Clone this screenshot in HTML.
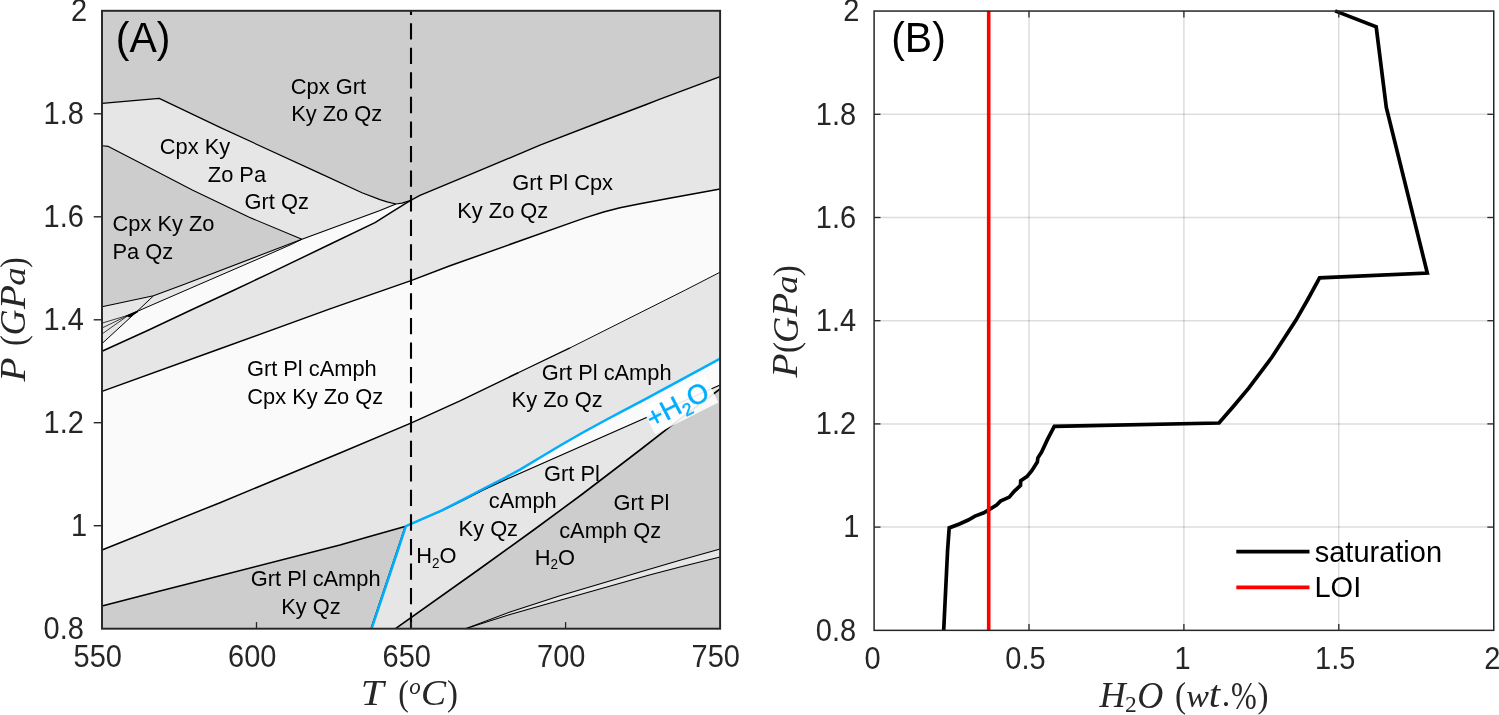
<!DOCTYPE html>
<html><head><meta charset="utf-8"><title>Figure</title>
<style>html,body{margin:0;padding:0;background:#fff;overflow:hidden}svg{display:block;will-change:transform}</style></head>
<body>
<svg width="1499" height="715" viewBox="0 0 1499 715">
<rect width="1499" height="715" fill="#fff"/>
<rect x="102.0" y="10.8" width="618.1" height="617.9000000000001" fill="#cdcdcd"/>
<polygon points="102.0,103.4 159.2,98.4 220.0,127.4 320.0,173.4 362.0,192.7 380.0,199.6 387.1,201.9 395.9,204.0 380.0,210.4 301.9,239.3 248.7,217.0 192.3,190.0 150.0,168.0 108.4,146.4 102.0,145.7" fill="#e6e6e6"/>
<polygon points="102.0,306.8 153.5,295.8 182.5,285.0 260.0,255.3 301.9,239.3 380.0,210.4 395.9,204.0 402.0,203.1 410.2,200.7 420.0,195.4 480.0,170.4 540.0,145.2 600.0,122.0 645.0,105.0 660.0,99.2 720.1,76.6 720.1,188.9 690.0,194.4 670.7,197.9 640.0,203.7 620.0,207.8 603.6,212.0 585.0,217.9 570.0,223.1 450.0,265.8 411.0,280.6 330.0,308.9 220.0,348.8 102.0,391.4" fill="#e6e6e6"/>
<polygon points="136.8,311.6 137.8,311.2 150.0,305.8 197.9,285.0 270.0,253.8 290.0,245.0 301.9,239.3 380.0,210.4 395.9,204.0 402.0,203.1 410.2,200.7 392.0,211.8 375.0,222.6 330.0,244.3 270.0,273.1 234.3,290.0 210.0,301.3 191.1,310.0 148.7,330.0 102.0,351.3 102.0,343.6" fill="#fafafa"/>
<polygon points="102.0,391.4 220.0,348.8 330.0,308.9 411.0,280.6 450.0,265.8 570.0,223.1 585.0,217.9 603.6,212.0 620.0,207.8 640.0,203.7 670.7,197.9 690.0,194.4 720.1,188.9 720.1,272.2 685.4,290.0 570.0,347.9 518.7,372.5 460.0,400.9 410.9,423.1 340.0,453.0 220.0,502.7 102.0,550.0" fill="#fafafa"/>
<polygon points="102.0,550.0 220.0,502.7 340.0,453.0 410.9,423.1 460.0,400.9 518.7,372.5 570.0,347.9 685.4,290.0 720.1,272.2 720.1,358.7 699.4,369.8 645.8,398.8 624.9,409.8 603.9,421.0 582.9,432.5 561.9,444.5 541.0,457.0 520.0,469.6 504.9,477.8 483.9,488.5 462.9,499.6 441.9,510.3 405.9,526.2 367.8,537.0 340.0,545.0 220.0,575.8 160.0,591.0 102.0,606.0" fill="#e6e6e6"/>
<polygon points="371.6,628.7 396.3,555.0 405.9,526.2 441.9,510.8 462.9,500.4 483.9,489.6 504.9,479.9 720.1,385.0 720.1,388.8 714.1,393.5 670.7,426.2 640.0,450.0 581.8,494.5 533.6,530.0 478.1,570.0 395.5,628.7" fill="#e6e6e6"/>
<polygon points="483.9,488.5 504.9,477.8 520.0,469.6 541.0,457.0 561.9,444.5 582.9,432.5 603.9,421.0 624.9,409.8 645.8,398.8 699.4,369.8 720.1,358.7 720.1,385.0 504.9,479.9 483.9,489.6" fill="#fafafa"/>
<polygon points="465.5,628.7 510.0,612.0 560.0,595.7 640.0,571.9 680.0,560.3 720.1,549.0 720.1,557.0 680.0,566.9 649.4,575.0 560.0,600.3 510.0,614.5" fill="#e6e6e6"/>
<polygon points="125.5,315.8 137.6,310.5 138.2,312.0 129.5,317.6" fill="#000"/>
<polyline points="102.0,103.4 159.2,98.4 220.0,127.4 320.0,173.4 362.0,192.7 380.0,199.6 387.1,201.9 395.9,204.0 402.0,203.1 410.2,200.7" fill="none" stroke="#000" stroke-width="1.2" stroke-linejoin="round" />
<polyline points="410.2,200.7 420.0,195.4 480.0,170.4 540.0,145.2 600.0,122.0 645.0,105.0 660.0,99.2 720.1,76.6" fill="none" stroke="#000" stroke-width="1.4" stroke-linejoin="round" />
<polyline points="102.0,145.7 108.4,146.4 150.0,168.0 192.3,190.0 248.7,217.0 301.9,239.3" fill="none" stroke="#000" stroke-width="1.1" stroke-linejoin="round" />
<polyline points="102.0,306.8 153.5,295.8 182.5,285.0 260.0,255.3 301.9,239.3 380.0,210.4 395.9,204.0" fill="none" stroke="#000" stroke-width="1.05" stroke-linejoin="round" />
<polyline points="153.5,295.8 136.8,311.6 102.0,343.6" fill="none" stroke="#000" stroke-width="1.0" stroke-linejoin="round" />
<polyline points="128.5,315.2 137.8,311.2 150.0,305.8 197.9,285.0 270.0,253.8 290.0,245.0 301.9,239.3" fill="none" stroke="#000" stroke-width="1.0" stroke-linejoin="round" />
<polyline points="102.0,351.3 148.7,330.0 191.1,310.0 210.0,301.3 234.3,290.0 270.0,273.1 330.0,244.3 375.0,222.6 392.0,211.8 410.2,200.7" fill="none" stroke="#000" stroke-width="1.5" stroke-linejoin="round" />
<polyline points="102.0,391.4 220.0,348.8 330.0,308.9 411.0,280.6 450.0,265.8 570.0,223.1 585.0,217.9 603.6,212.0 620.0,207.8 640.0,203.7 670.7,197.9 690.0,194.4 720.1,188.9" fill="none" stroke="#000" stroke-width="1.5" stroke-linejoin="round" />
<polyline points="102.0,606.0 160.0,591.0 220.0,575.8 340.0,545.0 367.8,537.0 405.9,526.2" fill="none" stroke="#000" stroke-width="1.5" stroke-linejoin="round" />
<polyline points="405.9,526.2 441.9,510.8 462.9,500.4 483.9,489.6 504.9,479.9 720.1,385.0" fill="none" stroke="#000" stroke-width="1.2" stroke-linejoin="round" />
<polyline points="395.5,628.7 478.1,570.0 533.6,530.0 581.8,494.5 640.0,450.0 670.7,426.2 714.1,393.5 720.1,388.8" fill="none" stroke="#000" stroke-width="1.6" stroke-linejoin="round" />
<polyline points="465.5,628.7 510.0,612.0 560.0,595.7 640.0,571.9 680.0,560.3 720.1,549.0" fill="none" stroke="#000" stroke-width="1.05" stroke-linejoin="round" />
<polyline points="465.5,628.7 510.0,614.5 560.0,600.3 649.4,575.0 680.0,566.9 720.1,557.0" fill="none" stroke="#000" stroke-width="1.05" stroke-linejoin="round" />
<polyline points="102.0,550.0 220.0,502.7 340.0,453.0 410.9,423.1 460.0,400.9 518.7,372.5" fill="none" stroke="#000" stroke-width="1.5" stroke-linejoin="round" />
<polyline points="518.7,372.5 570.0,347.9" fill="none" stroke="#000" stroke-width="1.25" stroke-linejoin="round" />
<polyline points="570.0,347.9 685.4,290.0 720.1,272.2" fill="none" stroke="#000" stroke-width="0.95" stroke-linejoin="round" />
<polyline points="128.5,315.2 102.0,323.1" fill="none" stroke="#000" stroke-width="0.75" stroke-linejoin="round" />
<polyline points="128.5,315.2 102.0,328.0" fill="none" stroke="#000" stroke-width="0.75" stroke-linejoin="round" />
<polyline points="128.5,315.2 102.0,334.0" fill="none" stroke="#000" stroke-width="0.75" stroke-linejoin="round" />
<polyline points="370.9,628.7 395.6,555.0 405.2,526.2" fill="none" stroke="#000" stroke-width="1.2" stroke-linejoin="round" />
<polyline points="371.6,628.7 396.3,555.0 405.9,526.2 441.9,510.3 462.9,499.6 483.9,488.5 504.9,477.8 520.0,469.6 541.0,457.0 561.9,444.5 582.9,432.5 603.9,421.0 624.9,409.8 645.8,398.8 699.4,369.8 720.1,358.7" fill="none" stroke="#00aefd" stroke-width="2.5" stroke-linejoin="round" />
<line x1="411.0" y1="10.8" x2="411.0" y2="628.7" stroke="#000" stroke-width="2.1" stroke-dasharray="16.3 8.26" stroke-dashoffset="12.2"/>
<g transform="translate(655.2,434.3) rotate(-26.7)"><rect x="0" y="-30" width="70.8" height="30" fill="#ffffff" fill-opacity="0.9"/></g>
<g transform="translate(652.3,428.4) rotate(-27.6)"><text x="0" y="0" font-size="27.2" fill="#00aefd" stroke="#00aefd" stroke-width="0.45" font-family="Liberation Sans, sans-serif">+H<tspan font-size="17.5" dy="5.5">2</tspan><tspan dy="-5.5">O</tspan></text></g>
<text transform="translate(290.80,93.60) scale(1,1.02)" font-size="21.85" text-anchor="start" fill="#000" font-family="Liberation Sans, sans-serif" >Cpx Grt</text>
<text transform="translate(291.20,121.40) scale(1,1.02)" font-size="21.85" text-anchor="start" fill="#000" font-family="Liberation Sans, sans-serif" >Ky Zo Qz</text>
<text transform="translate(159.80,153.90) scale(1,1.02)" font-size="21.85" text-anchor="start" fill="#000" font-family="Liberation Sans, sans-serif" >Cpx Ky</text>
<text transform="translate(207.80,182.10) scale(1,1.02)" font-size="21.85" text-anchor="start" fill="#000" font-family="Liberation Sans, sans-serif" >Zo Pa</text>
<text transform="translate(244.60,209.20) scale(1,1.02)" font-size="21.85" text-anchor="start" fill="#000" font-family="Liberation Sans, sans-serif" >Grt Qz</text>
<text transform="translate(112.50,231.20) scale(1,1.02)" font-size="21.85" text-anchor="start" fill="#000" font-family="Liberation Sans, sans-serif" >Cpx Ky Zo</text>
<text transform="translate(112.50,258.60) scale(1,1.02)" font-size="21.85" text-anchor="start" fill="#000" font-family="Liberation Sans, sans-serif" >Pa Qz</text>
<text transform="translate(512.30,190.30) scale(1,1.02)" font-size="21.85" text-anchor="start" fill="#000" font-family="Liberation Sans, sans-serif" >Grt Pl Cpx</text>
<text transform="translate(457.30,217.80) scale(1,1.02)" font-size="21.85" text-anchor="start" fill="#000" font-family="Liberation Sans, sans-serif" >Ky Zo Qz</text>
<text transform="translate(246.90,376.20) scale(1,1.02)" font-size="21.85" text-anchor="start" fill="#000" font-family="Liberation Sans, sans-serif" >Grt Pl cAmph</text>
<text transform="translate(247.30,404.00) scale(1,1.02)" font-size="21.85" text-anchor="start" fill="#000" font-family="Liberation Sans, sans-serif" >Cpx Ky Zo Qz</text>
<text transform="translate(541.80,379.50) scale(1,1.02)" font-size="21.85" text-anchor="start" fill="#000" font-family="Liberation Sans, sans-serif" >Grt Pl cAmph</text>
<text transform="translate(511.60,406.80) scale(1,1.02)" font-size="21.85" text-anchor="start" fill="#000" font-family="Liberation Sans, sans-serif" >Ky Zo Qz</text>
<text transform="translate(544.00,480.60) scale(1,1.02)" font-size="21.85" text-anchor="start" fill="#000" font-family="Liberation Sans, sans-serif" >Grt Pl</text>
<text transform="translate(488.80,507.60) scale(1,1.02)" font-size="21.85" text-anchor="start" fill="#000" font-family="Liberation Sans, sans-serif" >cAmph</text>
<text transform="translate(458.60,535.50) scale(1,1.02)" font-size="21.85" text-anchor="start" fill="#000" font-family="Liberation Sans, sans-serif" >Ky Qz</text>
<text transform="translate(416.30,563.30) scale(1,1.02)" font-size="21.85" text-anchor="start" fill="#000" font-family="Liberation Sans, sans-serif" >H<tspan font-size="13.5" dy="4.5">2</tspan><tspan dy="-4.5">O</tspan></text>
<text transform="translate(613.60,510.20) scale(1,1.02)" font-size="21.85" text-anchor="start" fill="#000" font-family="Liberation Sans, sans-serif" >Grt Pl</text>
<text transform="translate(559.20,537.90) scale(1,1.02)" font-size="21.85" text-anchor="start" fill="#000" font-family="Liberation Sans, sans-serif" >cAmph Qz</text>
<text transform="translate(534.70,564.90) scale(1,1.02)" font-size="21.85" text-anchor="start" fill="#000" font-family="Liberation Sans, sans-serif" >H<tspan font-size="13.5" dy="4.5">2</tspan><tspan dy="-4.5">O</tspan></text>
<text transform="translate(250.80,586.00) scale(1,1.02)" font-size="21.85" text-anchor="start" fill="#000" font-family="Liberation Sans, sans-serif" >Grt Pl cAmph</text>
<text transform="translate(281.30,613.50) scale(1,1.02)" font-size="21.85" text-anchor="start" fill="#000" font-family="Liberation Sans, sans-serif" >Ky Qz</text>
<text transform="translate(115.80,51.70) scale(1,1.04)" font-size="41" text-anchor="start" fill="#000" font-family="Liberation Sans, sans-serif" >(A)</text>
<rect x="102.0" y="10.8" width="618.1" height="617.9000000000001" fill="none" stroke="#262626" stroke-width="1.95"/>
<text transform="translate(71.01,21.10) scale(1,1.085)" font-size="29.0" text-anchor="start" fill="#262626" font-family="Liberation Sans, sans-serif" >2</text>
<line x1="93.7" y1="113.8" x2="102.0" y2="113.8" stroke="#262626" stroke-width="1.4"/>
<text transform="translate(43.51,124.08) scale(1,1.085)" font-size="29.0" text-anchor="start" fill="#262626" font-family="Liberation Sans, sans-serif" >1.8</text>
<line x1="93.7" y1="216.8" x2="102.0" y2="216.8" stroke="#262626" stroke-width="1.4"/>
<text transform="translate(43.51,227.07) scale(1,1.085)" font-size="29.0" text-anchor="start" fill="#262626" font-family="Liberation Sans, sans-serif" >1.6</text>
<line x1="93.7" y1="319.8" x2="102.0" y2="319.8" stroke="#262626" stroke-width="1.4"/>
<text transform="translate(43.51,330.05) scale(1,1.085)" font-size="29.0" text-anchor="start" fill="#262626" font-family="Liberation Sans, sans-serif" >1.4</text>
<line x1="93.7" y1="422.7" x2="102.0" y2="422.7" stroke="#262626" stroke-width="1.4"/>
<text transform="translate(43.51,433.03) scale(1,1.085)" font-size="29.0" text-anchor="start" fill="#262626" font-family="Liberation Sans, sans-serif" >1.2</text>
<line x1="93.7" y1="525.7" x2="102.0" y2="525.7" stroke="#262626" stroke-width="1.4"/>
<text transform="translate(71.01,536.02) scale(1,1.085)" font-size="29.0" text-anchor="start" fill="#262626" font-family="Liberation Sans, sans-serif" >1</text>
<text transform="translate(43.51,639.00) scale(1,1.085)" font-size="29.0" text-anchor="start" fill="#262626" font-family="Liberation Sans, sans-serif" >0.8</text>
<text transform="translate(73.51,666.70) scale(1,1.085)" font-size="29.0" text-anchor="start" fill="#262626" font-family="Liberation Sans, sans-serif" >550</text>
<line x1="256.5" y1="628.7" x2="256.5" y2="622.1" stroke="#262626" stroke-width="1.3"/>
<text transform="translate(228.03,666.70) scale(1,1.085)" font-size="29.0" text-anchor="start" fill="#262626" font-family="Liberation Sans, sans-serif" >600</text>
<line x1="411.1" y1="628.7" x2="411.1" y2="622.1" stroke="#262626" stroke-width="1.3"/>
<text transform="translate(382.56,666.70) scale(1,1.085)" font-size="29.0" text-anchor="start" fill="#262626" font-family="Liberation Sans, sans-serif" >650</text>
<line x1="565.6" y1="628.7" x2="565.6" y2="622.1" stroke="#262626" stroke-width="1.3"/>
<text transform="translate(537.08,666.70) scale(1,1.085)" font-size="29.0" text-anchor="start" fill="#262626" font-family="Liberation Sans, sans-serif" >700</text>
<text transform="translate(691.61,666.70) scale(1,1.085)" font-size="29.0" text-anchor="start" fill="#262626" font-family="Liberation Sans, sans-serif" >750</text>
<g transform="translate(25.1,381.7) rotate(-90)"><text transform="translate(0.24,-0.00) scale(1.190,1.065)" font-size="33" fill="#262626" font-family="Liberation Serif, serif" font-style="italic">P</text><text transform="translate(35.82,0.30) scale(0.988,1.100)" font-size="33" fill="#262626" font-family="Liberation Serif, serif" font-style="normal">(</text><text transform="translate(46.24,0.17) scale(1.089,1.104)" font-size="33" fill="#262626" font-family="Liberation Serif, serif" font-style="italic">G</text><text transform="translate(72.64,-0.00) scale(1.190,1.065)" font-size="33" fill="#262626" font-family="Liberation Serif, serif" font-style="italic">P</text><text transform="translate(95.98,0.01) scale(1.120,0.975)" font-size="33" fill="#262626" font-family="Liberation Serif, serif" font-style="italic">a</text><text transform="translate(113.87,0.30) scale(0.940,1.100)" font-size="33" fill="#262626" font-family="Liberation Serif, serif" font-style="normal">)</text></g>
<text transform="translate(360.75,705.00) scale(1.251,1.060)" font-size="33" fill="#262626" font-family="Liberation Serif, serif" font-style="italic">T</text><text transform="translate(398.35,705.30) scale(0.965,1.100)" font-size="33" fill="#262626" font-family="Liberation Serif, serif" font-style="normal">(</text><text transform="translate(409.20,693.70) scale(0.697,0.671)" font-size="33" fill="#262626" font-family="Liberation Serif, serif" font-style="italic">o</text><text transform="translate(420.95,705.37) scale(1.141,1.086)" font-size="33" fill="#262626" font-family="Liberation Serif, serif" font-style="italic">C</text><text transform="translate(446.96,705.30) scale(0.994,1.100)" font-size="33" fill="#262626" font-family="Liberation Serif, serif" font-style="normal">)</text>
<rect x="874.1" y="11.05" width="619.65" height="619.3000000000001" fill="#fff"/>
<line x1="1029.0" y1="11.05" x2="1029.0" y2="630.35" stroke="rgba(38,38,38,0.155)" stroke-width="1.5"/>
<line x1="1183.9" y1="11.05" x2="1183.9" y2="630.35" stroke="rgba(38,38,38,0.155)" stroke-width="1.5"/>
<line x1="1338.8" y1="11.05" x2="1338.8" y2="630.35" stroke="rgba(38,38,38,0.155)" stroke-width="1.5"/>
<line x1="874.1" y1="114.3" x2="1493.75" y2="114.3" stroke="rgba(38,38,38,0.155)" stroke-width="1.5"/>
<line x1="874.1" y1="217.5" x2="1493.75" y2="217.5" stroke="rgba(38,38,38,0.155)" stroke-width="1.5"/>
<line x1="874.1" y1="320.7" x2="1493.75" y2="320.7" stroke="rgba(38,38,38,0.155)" stroke-width="1.5"/>
<line x1="874.1" y1="423.9" x2="1493.75" y2="423.9" stroke="rgba(38,38,38,0.155)" stroke-width="1.5"/>
<line x1="874.1" y1="527.1" x2="1493.75" y2="527.1" stroke="rgba(38,38,38,0.155)" stroke-width="1.5"/>
<polyline points="1335.1,10.9 1376.2,26.9 1386.3,107.4 1427.3,273.0 1319.6,277.9 1307.5,300.0 1295.7,320.6 1272.2,356.8 1248.7,388.1 1233.1,406.7 1219.0,423.0 1054.3,426.3 1047.5,439.4 1041.6,452.1 1037.9,457.8 1037.3,462.0 1031.8,470.7 1026.9,476.6 1020.7,480.7 1020.5,485.4 1014.2,491.3 1009.3,497.1 1000.5,501.1 996.6,505.0 988.7,509.9 983.8,512.8 975.0,516.1 968.2,520.0 959.4,524.0 949.2,527.9 947.6,550.0 944.3,618.0 943.7,630.4" fill="none" stroke="#000" stroke-width="3.7" stroke-linejoin="miter" stroke-linecap="butt" stroke-miterlimit="10"/>
<line x1="988.7" y1="11.05" x2="988.7" y2="630.35" stroke="#ff0000" stroke-width="3.6"/>
<line x1="1236.3" y1="551.7" x2="1309.5" y2="551.7" stroke="#000" stroke-width="3.7"/>
<line x1="1236.3" y1="587.3" x2="1309.5" y2="587.3" stroke="#ff0000" stroke-width="3.7"/>
<text transform="translate(1314.70,561.80) scale(1,1.0)" font-size="29.0" text-anchor="start" fill="#000" font-family="Liberation Sans, sans-serif" >saturation</text>
<text transform="translate(1314.50,597.30) scale(1,1.01)" font-size="29.0" text-anchor="start" fill="#000" font-family="Liberation Sans, sans-serif" >LOI</text>
<text transform="translate(891.20,51.70) scale(1,1.04)" font-size="41" text-anchor="start" fill="#000" font-family="Liberation Sans, sans-serif" >(B)</text>
<rect x="874.1" y="11.05" width="619.65" height="619.3000000000001" fill="none" stroke="#262626" stroke-width="1.5"/>
<text transform="translate(843.31,21.35) scale(1,1.085)" font-size="29.0" text-anchor="start" fill="#262626" font-family="Liberation Sans, sans-serif" >2</text>
<line x1="874.1" y1="114.3" x2="880.5" y2="114.3" stroke="#262626" stroke-width="1.3"/>
<line x1="1493.75" y1="114.3" x2="1487.35" y2="114.3" stroke="#262626" stroke-width="1.3"/>
<text transform="translate(815.81,124.57) scale(1,1.085)" font-size="29.0" text-anchor="start" fill="#262626" font-family="Liberation Sans, sans-serif" >1.8</text>
<line x1="874.1" y1="217.5" x2="880.5" y2="217.5" stroke="#262626" stroke-width="1.3"/>
<line x1="1493.75" y1="217.5" x2="1487.35" y2="217.5" stroke="#262626" stroke-width="1.3"/>
<text transform="translate(815.81,227.78) scale(1,1.085)" font-size="29.0" text-anchor="start" fill="#262626" font-family="Liberation Sans, sans-serif" >1.6</text>
<line x1="874.1" y1="320.7" x2="880.5" y2="320.7" stroke="#262626" stroke-width="1.3"/>
<line x1="1493.75" y1="320.7" x2="1487.35" y2="320.7" stroke="#262626" stroke-width="1.3"/>
<text transform="translate(815.81,331.00) scale(1,1.085)" font-size="29.0" text-anchor="start" fill="#262626" font-family="Liberation Sans, sans-serif" >1.4</text>
<line x1="874.1" y1="423.9" x2="880.5" y2="423.9" stroke="#262626" stroke-width="1.3"/>
<line x1="1493.75" y1="423.9" x2="1487.35" y2="423.9" stroke="#262626" stroke-width="1.3"/>
<text transform="translate(815.81,434.22) scale(1,1.085)" font-size="29.0" text-anchor="start" fill="#262626" font-family="Liberation Sans, sans-serif" >1.2</text>
<line x1="874.1" y1="527.1" x2="880.5" y2="527.1" stroke="#262626" stroke-width="1.3"/>
<line x1="1493.75" y1="527.1" x2="1487.35" y2="527.1" stroke="#262626" stroke-width="1.3"/>
<text transform="translate(843.31,537.43) scale(1,1.085)" font-size="29.0" text-anchor="start" fill="#262626" font-family="Liberation Sans, sans-serif" >1</text>
<text transform="translate(815.81,640.65) scale(1,1.085)" font-size="29.0" text-anchor="start" fill="#262626" font-family="Liberation Sans, sans-serif" >0.8</text>
<text transform="translate(864.60,668.50) scale(1,1.085)" font-size="29.0" text-anchor="start" fill="#262626" font-family="Liberation Sans, sans-serif" >0</text>
<line x1="1029.0" y1="630.35" x2="1029.0" y2="623.95" stroke="#262626" stroke-width="1.3"/>
<line x1="1029.0" y1="11.05" x2="1029.0" y2="17.450000000000003" stroke="#262626" stroke-width="1.3"/>
<text transform="translate(1005.27,668.50) scale(1,1.085)" font-size="29.0" text-anchor="start" fill="#262626" font-family="Liberation Sans, sans-serif" >0.5</text>
<line x1="1183.9" y1="630.35" x2="1183.9" y2="623.95" stroke="#262626" stroke-width="1.3"/>
<line x1="1183.9" y1="11.05" x2="1183.9" y2="17.450000000000003" stroke="#262626" stroke-width="1.3"/>
<text transform="translate(1174.43,668.50) scale(1,1.085)" font-size="29.0" text-anchor="start" fill="#262626" font-family="Liberation Sans, sans-serif" >1</text>
<line x1="1338.8" y1="630.35" x2="1338.8" y2="623.95" stroke="#262626" stroke-width="1.3"/>
<line x1="1338.8" y1="11.05" x2="1338.8" y2="17.450000000000003" stroke="#262626" stroke-width="1.3"/>
<text transform="translate(1315.09,668.50) scale(1,1.085)" font-size="29.0" text-anchor="start" fill="#262626" font-family="Liberation Sans, sans-serif" >1.5</text>
<text transform="translate(1484.25,668.50) scale(1,1.085)" font-size="29.0" text-anchor="start" fill="#262626" font-family="Liberation Sans, sans-serif" >2</text>
<g transform="translate(797.4,377.7) rotate(-90)"><text transform="translate(0.24,-0.00) scale(1.190,1.065)" font-size="33" fill="#262626" font-family="Liberation Serif, serif" font-style="italic">P</text><text transform="translate(24.78,0.30) scale(1.012,1.100)" font-size="33" fill="#262626" font-family="Liberation Serif, serif" font-style="normal">(</text><text transform="translate(34.82,0.17) scale(1.099,1.104)" font-size="33" fill="#262626" font-family="Liberation Serif, serif" font-style="italic">G</text><text transform="translate(61.24,-0.00) scale(1.179,1.065)" font-size="33" fill="#262626" font-family="Liberation Serif, serif" font-style="italic">P</text><text transform="translate(83.90,0.01) scale(1.099,0.975)" font-size="33" fill="#262626" font-family="Liberation Serif, serif" font-style="italic">a</text><text transform="translate(101.50,0.30) scale(1.000,1.100)" font-size="33" fill="#262626" font-family="Liberation Serif, serif" font-style="normal">)</text></g>
<text transform="translate(1099.53,707.00) scale(1.100,1.065)" font-size="33" fill="#262626" font-family="Liberation Serif, serif" font-style="italic">H</text><text transform="translate(1124.91,712.00) scale(0.711,0.688)" font-size="33" fill="#262626" font-family="Liberation Serif, serif" font-style="normal">2</text><text transform="translate(1137.14,707.66) scale(1.093,1.122)" font-size="33" fill="#262626" font-family="Liberation Serif, serif" font-style="italic">O</text><text transform="translate(1175.10,707.27) scale(1.000,1.104)" font-size="33" fill="#262626" font-family="Liberation Serif, serif" font-style="normal">(</text><text transform="translate(1186.17,707.01) scale(1.033,0.965)" font-size="33" fill="#262626" font-family="Liberation Serif, serif" font-style="italic">w</text><text transform="translate(1208.84,706.96) scale(1.241,1.127)" font-size="33" fill="#262626" font-family="Liberation Serif, serif" font-style="italic">t</text><text transform="translate(1221.74,706.49) scale(1.026,1.026)" font-size="33" fill="#262626" font-family="Liberation Serif, serif" font-style="normal">.</text><text transform="translate(1230.97,708.52) scale(0.937,1.205)" font-size="33" fill="#262626" font-family="Liberation Serif, serif" font-style="normal">&#37;</text><text transform="translate(1257.60,707.27) scale(1.000,1.104)" font-size="33" fill="#262626" font-family="Liberation Serif, serif" font-style="normal">)</text>
</svg>
</body></html>
